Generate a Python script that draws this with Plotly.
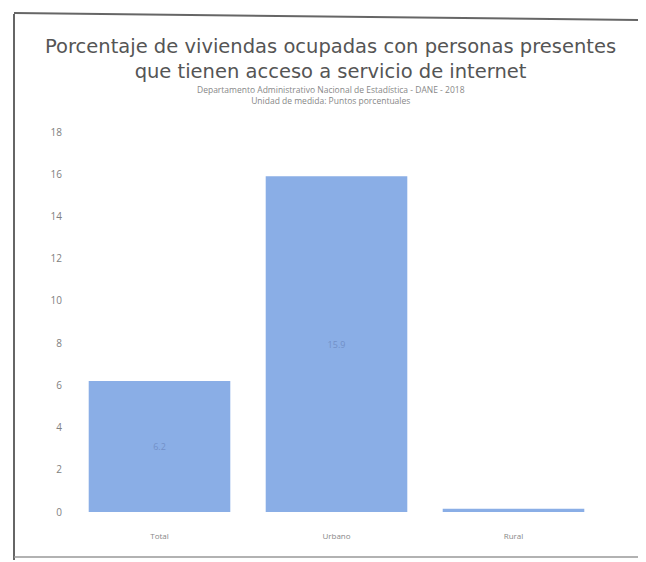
import plotly.graph_objects as go

categories = ["Total", "Urbano", "Rural"]
values = [6.2, 15.9, 0.15]
value_labels = ["6.2", "15.9", ""]
y_ticks = [0, 2, 4, 6, 8, 10, 12, 14, 16, 18]

title_line1 = "Porcentaje de viviendas ocupadas con personas presentes"
title_line2 = "que tienen acceso a servicio de internet"
subtitle1 = "Departamento Administrativo Nacional de Estadística - DANE - 2018"
subtitle2 = "Unidad de medida: Puntos porcentuales"

OFF = 8  # page body margin
W, H = 646 - OFF, 562 - OFF
L, R, T, B = 71 - OFF, 44, 132 - OFF, 50
pw, ph = W - L - R, H - T - B

def px(x):
    return (x - OFF - L) / pw

def py(y):
    return (H - B - (y - OFF)) / ph

fig = go.Figure(go.Bar(
    x=categories, y=values,
    marker=dict(color="#8aaee6", line=dict(width=0)),
    text=value_labels, textposition="inside", insidetextanchor="middle",
    textfont=dict(color="#7290c8", size=9, family="Open Sans"),
))

fig.update_layout(
    width=W, height=H,
    margin=dict(l=L, r=R, t=T, b=B),
    paper_bgcolor="white", plot_bgcolor="white",
    bargap=0.2, showlegend=False,
    font=dict(family="Open Sans", color="#777"),
    xaxis=dict(showgrid=False, showline=False, ticks="", ticklabelstandoff=18,
               tickfont=dict(size=8, color="#888")),
    yaxis=dict(range=[0, 18], tickvals=y_ticks, showgrid=False, zeroline=False,
               ticks="", tickfont=dict(size=10, color="#808080"), ticklabelstandoff=8),
)

fig.add_annotation(text=title_line1 + "<br>" + title_line2, x=px(330), y=py(59),
                   xref="paper", yref="paper", showarrow=False,
                   xanchor="center", yanchor="middle", align="center",
                   font=dict(size=19.5, color="#555", family="DejaVu Sans"))
fig.add_annotation(text=subtitle1 + "<br>" + subtitle2, x=px(331), y=py(95),
                   xref="paper", yref="paper", showarrow=False,
                   xanchor="center", yanchor="middle", align="center",
                   font=dict(size=8.5, color="#888", family="Open Sans"))

# frame of the photographed chart
frame = dict(color="#666", width=2)
fig.add_shape(type="line", xref="paper", yref="paper", x0=px(14), x1=px(14), y0=py(14), y1=py(560), line=frame)
fig.add_shape(type="line", xref="paper", yref="paper", x0=px(14), x1=px(646), y0=py(13), y1=py(20), line=frame)
fig.add_shape(type="line", xref="paper", yref="paper", x0=px(14), x1=px(646), y0=py(557), y1=py(557), line=dict(color="#999", width=1.5))

fig.write_html("out.html")
